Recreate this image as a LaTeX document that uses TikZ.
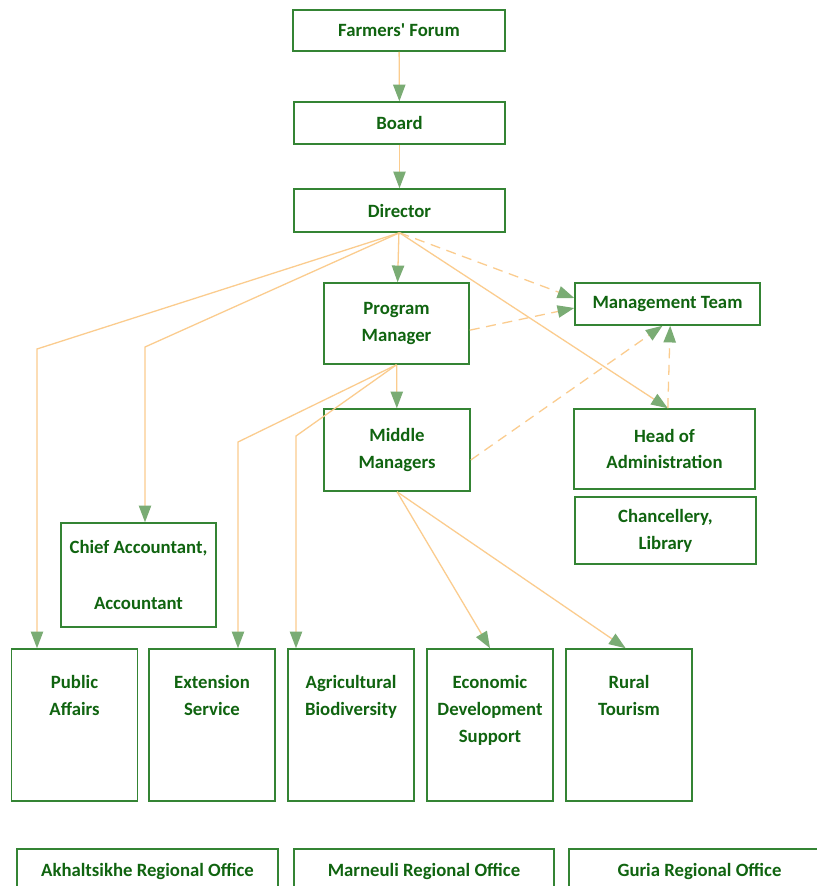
\documentclass[tikz,border=0pt]{standalone}
\usepackage{fontspec}
\setmainfont{Carlito}
\usepackage{tikz}
\usetikzlibrary{calc,positioning,arrows.meta}
\definecolor{boxgreen}{RGB}{52, 132, 52}
\definecolor{textgreen}{RGB}{16, 100, 16}
\definecolor{lineorange}{RGB}{251, 204, 142}
\definecolor{tipgreen}{RGB}{122, 172, 116}
\newcommand{\toptext}[1]{\parbox[c][2.96cm][t]{3.6cm}{\centering #1}}

\begin{document}
\begin{tikzpicture}[
    x=0.03cm, y=-0.03cm,
    unit/.style={draw=boxgreen, line width=1.3pt, fill=white, align=center, inner sep=0pt,
        font=\fontsize{16}{23}\selectfont\bfseries\color{textgreen}},
    tallunit/.style={unit, minimum width=3.78cm, inner xsep=0.09cm, inner ysep=0.8cm},
    link/.style={line width=1.1pt, color=lineorange, -{Triangle[length=0.5cm, width=0.37cm, color=tipgreen, fill=tipgreen]}},
    dashlink/.style={link, dash pattern=on 0.3cm off 0.2cm}
]
    \useasboundingbox[fill=white] (0,0) rectangle (817,886);

    % Nodes
    \node [unit, minimum width=6.36cm, minimum height=1.23cm] (forum) at (399,30.5) {Farmers\textquotesingle\ Forum};
    \node [unit, minimum width=6.33cm, minimum height=1.26cm] (board) at (399.5,123) {Board};
    \node [unit, minimum width=6.33cm, minimum height=1.29cm] (director) at (399.5,210.5) {Director};
    \node [unit, minimum width=4.35cm, minimum height=2.43cm] (pm) at (396.5,323.5) {Program\\Manager};
    \node [unit, minimum width=5.55cm, minimum height=1.26cm] (mteam) at (667.5,304) {Management Team};
    \node [unit, minimum width=4.38cm, minimum height=2.46cm] (middle) at (397,450) {Middle\\Managers};
    \node [unit, minimum width=5.43cm, minimum height=2.4cm] (headadm) at (664.5,449) {Head of\\Administration};
    \node [unit, minimum width=5.43cm, minimum height=2.01cm] (chancel) at (665.5,530.5) {Chancellery,\\Library};
    \node [unit, minimum width=4.65cm, minimum height=3.12cm] (chief) at (138.5,575) {Chief Accountant,\\[24pt]Accountant};

    \node [tallunit] (pubaff) at (74.5,725) {\toptext{Public\\Affairs}};
    \node [tallunit] (extserv) at (212,725) {\toptext{Extension Service}};
    \node [tallunit] (agribio) at (351,725) {\toptext{Agricultural Biodiversity}};
    \node [tallunit] (ecodev) at (490,725) {\toptext{Economic Development Support}};
    \node [tallunit] (rural) at (629,725) {\toptext{Rural\\Tourism}};

    \node [unit, minimum width=7.83cm, minimum height=1.35cm] (akhal) at (147.5,871.5) {Akhaltsikhe Regional Office};
    \node [unit, minimum width=7.8cm, minimum height=1.35cm] (marneuli) at (424,871.5) {Marneuli Regional Office};
    \node [unit, minimum width=7.83cm, minimum height=1.35cm] (guria) at (699.5,871.5) {Guria Regional Office};

    % Bends
    \coordinate (pubbend) at (37,349);
    \coordinate (accbend) at (145,347);
    \coordinate (extbend) at (238,442);
    \coordinate (agribend) at (296,436);

    % Paths
    \draw [link] (forum) -- (board);
    \draw [link] (board) -- (director);
    \draw [link] (director) -- (pm);
    \draw [link] (director.south) -- (pubbend) -- (pubbend |- pubaff.north);
    \draw [link] (director.south) -- (accbend) -- (accbend |- chief.north);
    \draw [dashlink] (director.south) -- ([yshift=0.18cm]mteam.west);
    \draw [link] (director.south) -- ([xshift=0.1cm]headadm.north);
    \draw [dashlink] ([yshift=-0.2cm]pm.east) -- ([yshift=-0.12cm]mteam.west);
    \draw [dashlink] ([xshift=0.1cm]headadm.north) -- ([xshift=0.08cm]mteam.south);
    \draw [dashlink] ([yshift=-0.3cm]middle.east) -- ([xshift=-0.15cm]mteam.south);
    \draw [link] (pm) -- (middle);
    \draw [link] (pm.south) -- (extbend) -- (extbend |- extserv.north);
    \draw [link] (pm.south) -- (agribend) -- (agribend |- agribio.north);
    \draw [link] (middle.south) -- (ecodev.north);
    \draw [link] (middle.south) -- ([xshift=-0.1cm]rural.north);
\end{tikzpicture}
\end{document}
